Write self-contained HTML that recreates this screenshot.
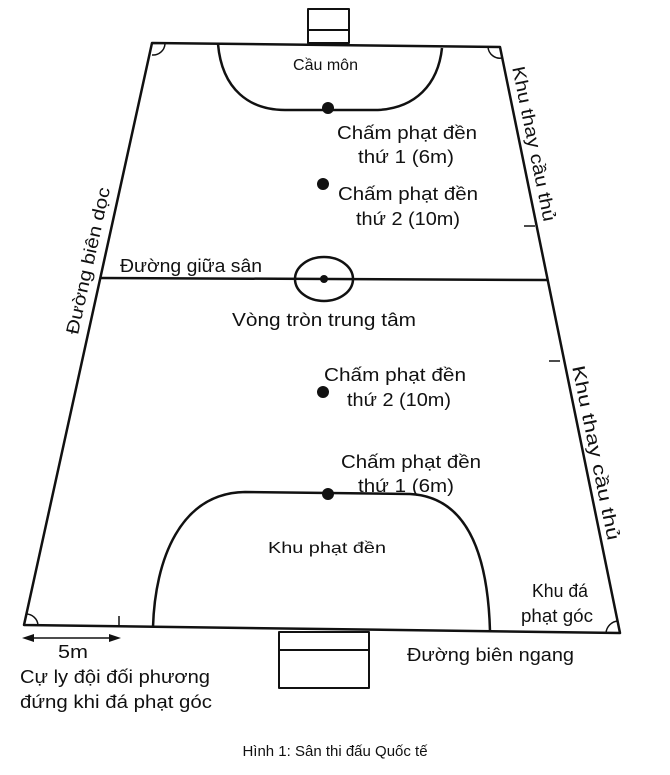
<!DOCTYPE html>
<html><head><meta charset="utf-8"><style>
html,body{margin:0;padding:0;background:#fff;}
svg{display:block;}
text{font-family:"Liberation Sans",Arial,sans-serif;fill:#111;}
</style></head><body>
<svg width="670" height="775" viewBox="0 0 670 775" xmlns="http://www.w3.org/2000/svg">
<g stroke="#111" stroke-width="2.5" fill="none" stroke-linejoin="round">
  <path d="M152,43 L500,47 L620,633 L24,625 Z"/>
  <rect x="308" y="9" width="41" height="34" stroke-width="2"/>
  <line x1="308" y1="30" x2="349" y2="30" stroke-width="2"/>
  <rect x="279" y="632" width="90" height="56" stroke-width="2"/>
  <line x1="279" y1="650" x2="369" y2="650" stroke-width="2"/>
  <path d="M218,44 C222,90 250,110 285,110 L378,110 C415,108 438,85 442,48"/>
  <path d="M153,627 C155,560 180,493 245,492 L410,494 C470,497 488,560 490,631"/>
  <line x1="101" y1="278" x2="548" y2="280"/>
  <ellipse cx="324" cy="279" rx="29" ry="22"/>
  <path d="M152,55 A12,12 0 0 0 165,44" stroke-width="1.5"/>
  <path d="M488,47 A12,12 0 0 0 502,58" stroke-width="1.5"/>
  <path d="M26,614 A12,12 0 0 1 38,625" stroke-width="1.5"/>
  <path d="M606,633 A13,13 0 0 1 618,621" stroke-width="1.5"/>
  <line x1="524" y1="226" x2="535" y2="226" stroke-width="1.5"/>
  <line x1="549" y1="361" x2="560" y2="361" stroke-width="1.5"/>
  <line x1="119" y1="616" x2="119" y2="626" stroke-width="1.5"/>
  <line x1="28" y1="638" x2="116" y2="638" stroke-width="1.5"/>
</g>
<polygon points="22,638 34,634 34,642" fill="#111"/>
<polygon points="121,638 109,634 109,642" fill="#111"/>
<g fill="#111">
  <circle cx="328" cy="108" r="6"/>
  <circle cx="323" cy="184" r="6"/>
  <circle cx="324" cy="279" r="4"/>
  <circle cx="323" cy="392" r="6"/>
  <circle cx="328" cy="494" r="6"/>
</g>
<g font-size="18">
  <text x="293" y="70" font-size="16" textLength="65" lengthAdjust="spacingAndGlyphs">Cầu môn</text>
  <text x="337" y="139" textLength="140" lengthAdjust="spacingAndGlyphs">Chấm phạt đền</text>
  <text x="358" y="163" textLength="96" lengthAdjust="spacingAndGlyphs">thứ 1 (6m)</text>
  <text x="338" y="200" textLength="140" lengthAdjust="spacingAndGlyphs">Chấm phạt đền</text>
  <text x="356" y="225" textLength="104" lengthAdjust="spacingAndGlyphs">thứ 2 (10m)</text>
  <text x="120" y="272" textLength="142" lengthAdjust="spacingAndGlyphs">Đường giữa sân</text>
  <text x="232" y="326" textLength="184" lengthAdjust="spacingAndGlyphs">Vòng tròn trung tâm</text>
  <text x="324" y="381" textLength="142" lengthAdjust="spacingAndGlyphs">Chấm phạt đền</text>
  <text x="347" y="406" textLength="104" lengthAdjust="spacingAndGlyphs">thứ 2 (10m)</text>
  <text x="341" y="468" textLength="140" lengthAdjust="spacingAndGlyphs">Chấm phạt đền</text>
  <text x="358" y="492" textLength="96" lengthAdjust="spacingAndGlyphs">thứ 1 (6m)</text>
  <text x="268" y="553" font-size="16" textLength="118" lengthAdjust="spacingAndGlyphs">Khu phạt đền</text>
  <text x="532" y="597" textLength="56" lengthAdjust="spacingAndGlyphs">Khu đá</text>
  <text x="521" y="622" textLength="72" lengthAdjust="spacingAndGlyphs">phạt góc</text>
  <text x="407" y="661" textLength="167" lengthAdjust="spacingAndGlyphs">Đường biên ngang</text>
  <text x="58" y="658" textLength="30" lengthAdjust="spacingAndGlyphs">5m</text>
  <text x="20" y="683" textLength="190" lengthAdjust="spacingAndGlyphs">Cự ly đội đối phương</text>
  <text x="20" y="708" textLength="192" lengthAdjust="spacingAndGlyphs">đứng khi đá phạt góc</text>
  <text x="335" y="756" font-size="15" text-anchor="middle">Hình 1: Sân thi đấu Quốc tế</text>
  <text transform="translate(94,262) rotate(-77.6)" text-anchor="middle" textLength="150" lengthAdjust="spacingAndGlyphs">Đường biên dọc</text>
  <text transform="translate(528,145) rotate(78.4)" text-anchor="middle" textLength="158" lengthAdjust="spacingAndGlyphs">Khu thay cầu thủ</text>
  <text transform="translate(590,454) rotate(78.4)" text-anchor="middle" textLength="178" lengthAdjust="spacingAndGlyphs">Khu thay cầu thủ</text>
</g>
</svg>
</body></html>
